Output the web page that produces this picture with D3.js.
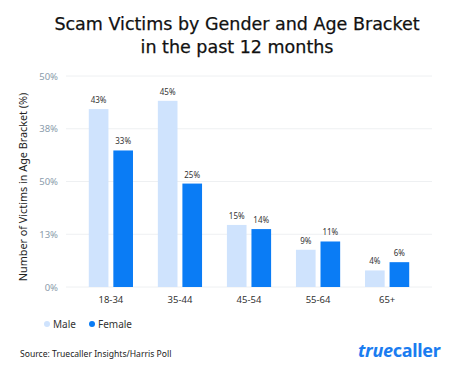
<!DOCTYPE html>
<html>
<head>
<meta charset="utf-8">
<script src="https://cdn.jsdelivr.net/npm/d3@7"></script>
<style>
  body { margin: 0; background: #fff; }
  svg { display: block; font-family: "Noto Sans", "Open Sans", sans-serif; }
</style>
</head>
<body>
<div class="chart-wrapper"></div>
<script>
const ageGroups = ['18-34', '35-44', '45-54', '55-64', '65+'];
const maleValues = [43, 45, 15, 9, 4];
const femaleValues = [33, 25, 14, 11, 6];
const yTickLabels = ['0%', '13%', '50%', '38%', '50%'];
const yMax = 51;

function drawChart() {
    const dimentions = {
        width: 474,
        height: 382,
        margin: { top: 76, right: 42, bottom: 95, left: 66 },
    };
    dimentions.boundedWidth = dimentions.width - dimentions.margin.left - dimentions.margin.right;
    dimentions.boundedHeight = dimentions.height - dimentions.margin.top - dimentions.margin.bottom;

    const series = [
        { name: 'Male', values: maleValues, color: '#cfe3fd' },
        { name: 'Female', values: femaleValues, color: '#0a7cf5' },
    ];

    const data = ageGroups.map((g, i) => ({
        group: g,
        bars: series.map(s => ({ name: s.name, value: s.values[i], color: s.color })),
    }));

    const wrapper = d3.select('.chart-wrapper')
        .append('svg')
        .attr('width', dimentions.width)
        .attr('height', dimentions.height);

    // title
    const titleLines = ['Scam Victims by Gender and Age Bracket', 'in the past 12 months'];
    wrapper.selectAll('.title')
        .data(titleLines)
        .join('text')
        .attr('class', 'title')
        .attr('x', 237)
        .attr('y', (d, i) => 30 + i * 23)
        .attr('text-anchor', 'middle')
        .style('font-family', '"DejaVu Sans", sans-serif')
        .style('font-size', '17.5px')
        .style('font-weight', 400)
        .style('fill', '#111')
        .style('stroke', '#111')
        .style('stroke-width', 0.25)
        .text(d => d);

    const bounds = wrapper.append('g')
        .attr('transform', `translate(${dimentions.margin.left}, ${dimentions.margin.top})`);

    const yScale = d3.scaleLinear()
        .domain([0, yMax])
        .range([dimentions.boundedHeight, 0]);

    const xScale = d3.scaleBand()
        .domain(ageGroups)
        .range([0, dimentions.boundedWidth])
        .paddingInner(0.36)
        .paddingOuter(0.33);

    const subScale = d3.scaleBand()
        .domain(series.map(s => s.name))
        .range([0, xScale.bandwidth()])
        .paddingInner(0.2);

    const tickValues = yTickLabels.map((d, i) => i * yMax / (yTickLabels.length - 1));

    // gridlines
    bounds.append('g')
        .selectAll('line')
        .data(tickValues)
        .join('line')
        .attr('x1', 0)
        .attr('x2', dimentions.boundedWidth)
        .attr('y1', d => yScale(d))
        .attr('y2', d => yScale(d))
        .attr('stroke', '#eef0f2')
        .attr('stroke-width', 1);

    const yAxis = d3.axisLeft(yScale)
        .tickValues(tickValues)
        .tickFormat((d, i) => yTickLabels[i])
        .tickSize(0)
        .tickPadding(8);

    const yAxisGroup = bounds.append('g').call(yAxis);
    yAxisGroup.select('.domain').remove();
    yAxisGroup.selectAll('text')
        .style('font-size', '9.5px')
        .style('fill', '#8a9bab')
        .style('font-family', '"Noto Sans", sans-serif');

    const groups = bounds.selectAll('.group')
        .data(data)
        .join('g')
        .attr('transform', d => `translate(${xScale(d.group)}, 0)`);

    groups.selectAll('rect')
        .data(d => d.bars)
        .join('rect')
        .attr('x', d => subScale(d.name))
        .attr('y', d => yScale(d.value))
        .attr('width', subScale.bandwidth())
        .attr('height', d => dimentions.boundedHeight - yScale(d.value))
        .attr('fill', d => d.color);

    groups.selectAll('.value-label')
        .data(d => d.bars)
        .join('text')
        .attr('class', 'value-label')
        .attr('x', d => subScale(d.name) + subScale.bandwidth() / 2)
        .attr('y', d => yScale(d.value) - 6)
        .attr('text-anchor', 'middle')
        .style('font-size', '8px')
        .style('fill', '#333')
        .text(d => d.value + '%');

    const xAxis = d3.axisBottom(xScale).tickSize(0).tickPadding(9);
    const xAxisGroup = bounds.append('g')
        .attr('transform', `translate(0, ${dimentions.boundedHeight})`)
        .call(xAxis);
    xAxisGroup.select('.domain').remove();
    xAxisGroup.selectAll('text')
        .style('font-size', '9.5px')
        .style('fill', '#333')
        .style('font-family', '"Noto Sans", sans-serif');

    // y axis title
    wrapper.append('text')
        .attr('transform', `translate(27, ${dimentions.margin.top + 111}) rotate(-90)`)
        .attr('text-anchor', 'middle')
        .style('font-size', '10.8px')
        .style('fill', '#222')
        .text('Number of Victims in Age Bracket (%)');

    // legend
    const legend = wrapper.append('g').attr('transform', 'translate(47, 324)');
    const legendItems = legend.selectAll('g')
        .data(series)
        .join('g')
        .attr('transform', (d, i) => `translate(${i * 45}, 0)`);
    legendItems.append('circle')
        .attr('r', 3)
        .attr('fill', d => d.color);
    legendItems.append('text')
        .attr('x', 6)
        .attr('y', 3.5)
        .style('font-size', '10px')
        .style('fill', '#333')
        .text(d => d.name);

    // source
    wrapper.append('text')
        .attr('x', 20).attr('y', 357)
        .style('font-size', '8.6px')
        .style('fill', '#222')
        .text('Source: Truecaller Insights/Harris Poll');

    // logo
    const logo = wrapper.append('text')
        .attr('x', 358).attr('y', 357)
        .style('font-size', '18px')
        .style('font-weight', 700)
        .style('fill', '#1a7cf0')
        .style('letter-spacing', '-0.3px');
    logo.append('tspan').style('font-style', 'italic').text('true');
    logo.append('tspan').text('caller');
}

drawChart();
</script>
</body>
</html>
